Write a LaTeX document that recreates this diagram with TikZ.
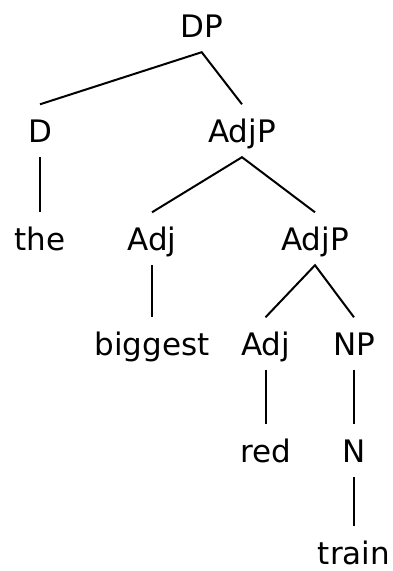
\documentclass[tikz,border=0pt]{standalone}
\usepackage{fontspec}
\setmainfont{DejaVu Sans}
\begin{document}
\begin{tikzpicture}[x=1pt,y=-1pt,
  lbl/.style={anchor=base,inner xsep=0pt,inner ysep=15pt,
    text height=22.5pt,text depth=0pt,
    font=\fontsize{31}{31}\selectfont},
  edge/.style={line width=2pt,black}]
  \useasboundingbox (0,0) rectangle (393,571);
  % row 1
  \node[lbl] (dp) at (201.7,37) {DP};
  % row 2
  \node[lbl] (d) at (40,142) {D};
  \node[lbl] (adjp1) at (242,142) {AdjP};
  % row 3
  \node[lbl] (the) at (40,250) {the};
  \node[lbl] (adj1) at (152,250) {Adj};
  \node[lbl] (adjp2) at (315,250) {AdjP};
  % row 4
  \node[lbl] (biggest) at (152,355) {biggest};
  \node[lbl] (adj2) at (265.5,355) {Adj};
  \node[lbl] (np) at (354,355) {NP};
  % row 5
  \node[lbl] (red) at (265.5,462) {red};
  \node[lbl] (n) at (354,462) {N};
  % row 6
  \node[lbl] (train) at (354,564) {train};
  % branches
  \draw[edge] (d.north) -- (dp.south) -- (adjp1.north);
  \draw[edge] (d.south) -- (the.north);
  \draw[edge] (adj1.north) -- (adjp1.south) -- (adjp2.north);
  \draw[edge] (adj1.south) -- (biggest.north);
  \draw[edge] (adj2.north) -- (adjp2.south) -- (np.north);
  \draw[edge] (adj2.south) -- (red.north);
  \draw[edge] (np.south) -- (n.north);
  \draw[edge] (n.south) -- (train.north);
\end{tikzpicture}
\end{document}
